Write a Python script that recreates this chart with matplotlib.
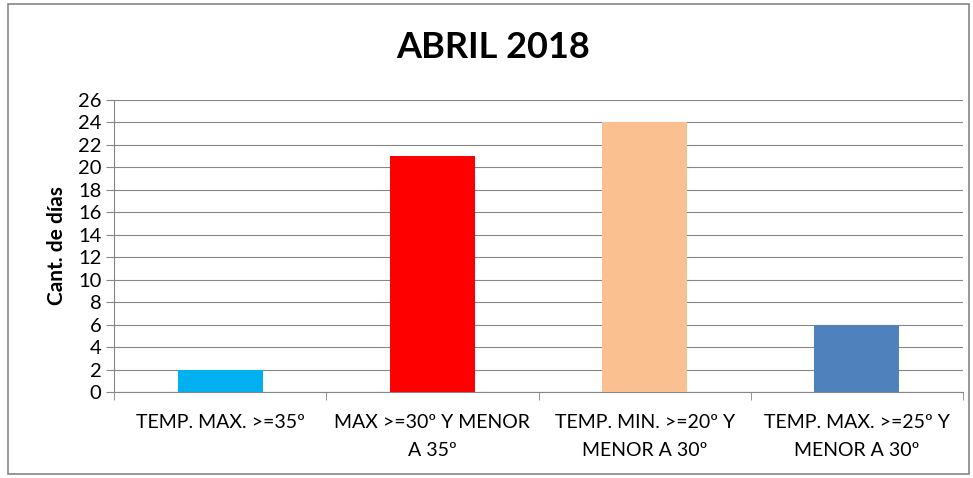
import matplotlib
matplotlib.use("Agg")
import matplotlib.pyplot as plt
from matplotlib.patches import Rectangle
from matplotlib.ticker import FixedLocator, NullFormatter

categories = ["TEMP. MAX. >=35º", "MAX >=30º Y MENOR\nA 35º",
              "TEMP. MIN. >=20º Y\nMENOR A 30º", "TEMP. MAX. >=25º Y\nMENOR A 30º"]
values = [2, 21, 24, 6]
colors = ["#00B0F0", "#FF0000", "#FAC090", "#4F81BD"]
yticks = list(range(0, 27, 2))
title = "ABRIL 2018"
ylabel = "Cant. de días"

plt.rcParams['font.family'] = ['Lato', 'DejaVu Sans']

fig = plt.figure(figsize=(9.73, 4.78), dpi=100)
ax = fig.add_axes([114/973, 1-392/478, (963-114)/973, (392-100)/478])

x = list(range(len(categories)))
ax.bar(x, values, width=0.4, color=colors, zorder=3)
ax.set_xlim(-0.5, len(categories)-0.5)
ax.set_ylim(0, 26)
ax.set_yticks(yticks)
ax.set_yticklabels([str(t) for t in yticks], fontsize=14.5)
ax.yaxis.grid(True, color="#868686", linewidth=0.8, zorder=0)

ax.set_xticks(x)
ax.set_xticklabels(categories, fontsize=14, linespacing=1.8)
ax.tick_params(axis='x', which='major', length=0, pad=16)
ax.xaxis.set_minor_locator(FixedLocator([i - 0.5 for i in range(len(categories)+1)]))
ax.xaxis.set_minor_formatter(NullFormatter())
ax.tick_params(axis='x', which='minor', length=6, color="#868686", direction='out')
ax.tick_params(axis='y', length=6, color="#868686", direction='out', pad=3)

for s in ['top', 'right']:
    ax.spines[s].set_visible(False)
for s in ['left', 'bottom']:
    ax.spines[s].set_color("#868686")

ax.set_ylabel(ylabel, fontsize=15, fontweight='bold', labelpad=8)
fig.text(0.507, 1-48/478, title, ha='center', va='center', fontsize=26, fontweight='bold')

fig.patches.append(Rectangle((8/973, 4/478), 961/973, 470/478, transform=fig.transFigure,
                             fill=False, edgecolor="#868686", linewidth=1.2))

fig.savefig("out.png", dpi=100)
